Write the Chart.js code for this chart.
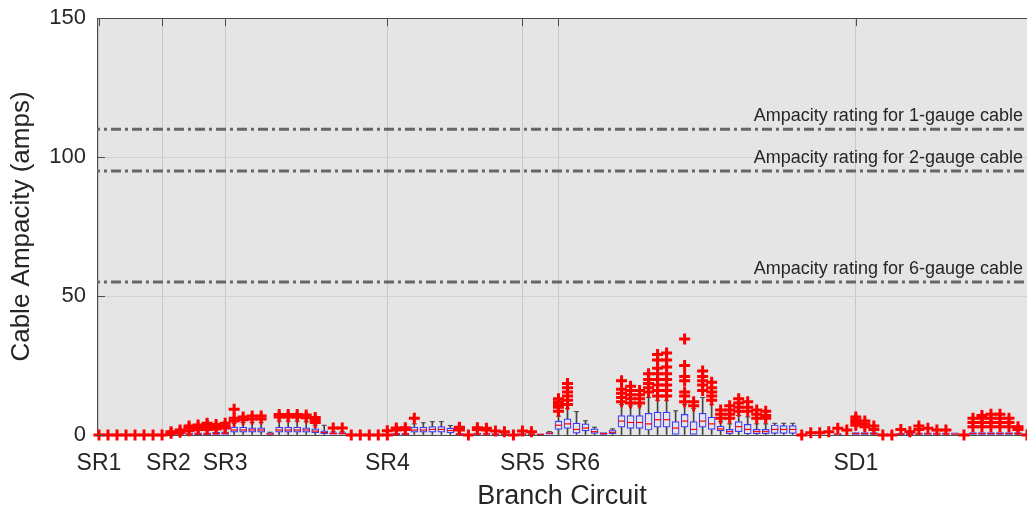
<!DOCTYPE html>
<html><head><meta charset="utf-8">
<script src="https://cdn.jsdelivr.net/npm/chart.js@4"></script>
<style>html,body{margin:0;padding:0;background:#fff;overflow:hidden;}</style>
</head><body>
<canvas id="c" width="1027" height="514"></canvas>
<script>
// ---- data ----
const categories = Array.from({length: 104}, (_, i) => i); // branch circuit index
const tickPos = [0, 7, 14, 32, 47, 51, 84];
const tickLabels = ['SR1', '  SR2', 'SR3', 'SR4', 'SR5', '      SR6', 'SD1'];
const yTicks = [0, 50, 100, 150];

const q1 = [null,null,null,null,null,null,null,null,
  0,0,0,0.1,0.1,0.2,0.2,1,1,1,1,0.2,1,1,1,1,0.8,0.5,0.3,0.3,
  null,null,null,null,null,0.1,0.1,1,1,1,1,0.8,0.1,null,0.2,0.2,0.1,0.1,null,0.1,0.1,0.1,0.3,
  2,2.4,0.7,1.5,0.6,0.2,0.5,2.8,2.4,2.4,1.8,2.8,2.8,0.2,2.8,0.2,2.8,2,1.5,0.4,1.2,0.4,0.4,0.4,0.6,0.6,0.6,
  null,null,null,null,0.1,null,0.2,0.2,0.2,null,null,0.1,0.1,0.2,0.2,0.2,0.2,0.2,null,0.2,0.2,0.2,0.2,0.2,0.2,null];
const med = [null,null,null,null,null,null,null,null,
  0.2,0.3,0.3,0.4,0.4,0.5,0.6,1.8,1.8,1.8,1.8,0.4,1.8,1.8,1.8,1.8,1.4,0.9,0.5,0.5,
  null,null,null,null,null,0.3,0.3,1.8,1.8,2,2,1.6,0.3,null,0.4,0.4,0.3,0.3,null,0.3,0.3,0.2,0.6,
  3.5,4,2,2.5,1.2,0.5,1,5,4.5,4.5,4,5.5,5.5,2.5,5,2,5,4,2.2,1.2,3,2,1.2,1.2,2,2,2,
  null,null,null,null,0.3,null,0.5,0.5,0.5,null,null,0.3,0.3,0.4,0.4,0.4,0.4,0.4,null,0.5,0.5,0.5,0.5,0.5,0.5,null];
const q3 = [null,null,null,null,null,null,null,null,
  0.5,0.6,0.6,0.8,0.8,1,1.1,2.8,2.8,2.6,2.6,0.8,2.8,2.8,2.8,2.6,2.2,1.5,0.9,0.9,
  null,null,null,null,null,0.6,0.6,2.8,2.8,3,3,2.5,0.6,null,0.7,0.7,0.5,0.5,null,0.5,0.5,0.4,1,
  5,5.8,4.3,4,2.2,0.9,1.8,7,7,7,7.8,8.2,8.2,4.8,7.4,4.8,7.8,6.4,3.2,2,4.8,3.8,2,2,3.6,3.4,3.4,
  null,null,null,null,0.5,null,0.9,0.9,0.9,null,null,0.6,0.6,0.8,0.8,0.8,0.8,0.8,null,0.9,0.9,0.9,0.9,0.9,0.9,null];
const whiskerHi = [null,null,null,null,null,null,null,null,
  0.5,0.6,0.6,0.8,0.8,1,1.1,4.2,4.5,4.5,4.5,1,5,5,5,4.8,3.5,3.5,1.2,1.2,
  null,null,null,null,null,0.6,0.6,4,4.4,4.8,4.8,3.4,0.6,null,0.7,0.7,0.5,0.5,null,0.5,0.5,0.4,1.2,
  6.8,9.6,8.4,5.1,2.8,0.9,2.2,11,10.5,10.5,13.5,12.5,12.5,8.7,11,9.6,13.5,11,4.8,4,7,6.5,4,4,4.2,4.2,4.2,
  null,null,null,null,0.5,null,0.9,0.9,0.9,null,null,0.6,0.6,0.8,0.8,0.8,0.8,0.8,null,0.9,0.9,0.9,0.9,0.9,0.9,null];
const outliers = [
  [0],[0],[0],[0],[0],[0],[0],[0],
  [0.6,1.2],[1,1.8],[1.5,2.5,3.2],[2,2.8,3.6],[2,2.8,3.6,4.2],[2.2,3,3.8],[2.5,3.2,4.2],
  [5,6,9.3],[5.5,6.5],[5.8,6.8],[5.8,6.8],[],[6.5,7.4],[6.5,7.4],[6.5,7.4],[6.2,7.2],[4.5,5.5,6.3],[],[2.5],[2.5],
  [0],[0],[0],[0],[0,1.5],[1.8,2.5],[2,2.6],[6],[],[],[],[],[1.8,2.4,2.8],[0],[2,2.6],[1.8,2.4],[1.4],[1.2],[0],[1.4],[1.2],[],[],
  [8.5,10,11,12,13],[11,12.5,14,15.5,17,18.5],[],[],[],[],[],
  [12,13.5,15,16.5,19.5],[11.5,13,14.5,16,17.5],[11.5,13,14.5,16],[15.5,17,18.5,20,22],
  [14,16,18,20,22,24,27,29],[14,16,18,20,22,24.5,27,29.5],[],[12,14,15.5,19.5,21,25,34.5],[10.5,12],
  [16,18,19.5,21,23],[12.5,14,15.5,17,19],[6,7.5,9],[6,7.5,9,10.5],[8.5,10,11.5,13],[8.5,10,12],[6,7.5,9],[6,7,8.5],
  [],[],[],
  [0],[0.8],[0.8],[1.2],[2.4],[1.8],[3.5,4.5,5.5,6.5],[3,4,5],[2,3.2],[0],[0],[2],[1.2],[2,3.2],[2.4],[1.8],[1.8],[],
  [0],[3,4.5,6],[3,4.5,6,7],[3,4.5,6,7.5],[3,4.5,6,7.5],[3,4.5,6],[2,3],[0]];
const ratingValues = [110, 95, 55];
const ratingLabels = ['Ampacity rating for 1-gauge cable', 'Ampacity rating for 2-gauge cable', 'Ampacity rating for 6-gauge cable'];

// ---- derived datasets ----
const FONT = 'Arial, "Liberation Sans", Helvetica, sans-serif';
const hasBox = i => q1[i] !== null;
const boxData = categories.filter(hasBox).map(i => ({x: i, y: [q1[i], q3[i]]}));
const upperWhisker = categories.filter(i => hasBox(i) && whiskerHi[i] > q3[i]).map(i => ({x: i, y: [q3[i], whiskerHi[i]]}));
const lowerWhisker = categories.filter(i => hasBox(i) && q1[i] > 0.3).map(i => ({x: i, y: [0, q1[i]]}));
const capData = upperWhisker.map(d => ({x: d.x, y: d.y[1]}));
const medData = categories.filter(i => med[i] !== null).map(i => ({x: i, y: med[i]}));
const outData = categories.flatMap(i => outliers[i].map(v => ({x: i, y: v})));

const ratingSets = ratingValues.map(v => ({
  type: 'line', data: [{x: -1, y: v}, {x: 110, y: v}], borderColor: '#666666', borderWidth: 3,
  borderDash: [10, 4, 3, 4], pointRadius: 0, order: 6
}));

const decor = {
  id: 'decor',
  beforeDraw(chart) {
    const {ctx, chartArea: a} = chart;
    ctx.save();
    ctx.fillStyle = '#e5e5e5';
    ctx.fillRect(a.left, a.top, a.right - a.left, a.bottom - a.top);
    ctx.restore();
  },
  afterDraw(chart) {
    const {ctx, chartArea: a, scales: {x, y}} = chart;
    ctx.save();
    ctx.strokeStyle = '#4d4d4d';
    ctx.lineWidth = 1;
    ctx.beginPath();
    ctx.moveTo(a.left, a.top + 0.5); ctx.lineTo(a.right, a.top + 0.5);
    y.ticks.forEach(t => { const py = Math.round(y.getPixelForValue(t.value)) + 0.5; ctx.moveTo(a.left, py); ctx.lineTo(a.left + 8, py); });
    x.ticks.forEach(t => { const px = Math.round(x.getPixelForValue(t.value)) + 0.5; ctx.moveTo(px, a.top); ctx.lineTo(px, a.top + 8); });
    ctx.stroke();
    ctx.fillStyle = '#262626';
    ctx.font = '18px ' + FONT;
    ctx.textAlign = 'right';
    ctx.textBaseline = 'alphabetic';
    ratingValues.forEach((v, i) => ctx.fillText(ratingLabels[i], a.right - 4, y.getPixelForValue(v) - 8));
    ctx.restore();
  }
};

new Chart(document.getElementById('c'), {
  type: 'bar',
  data: {
    datasets: [
      ...ratingSets,
      {type: 'bar', data: lowerWhisker, backgroundColor: '#444444', barThickness: 1, grouped: false, order: 5},
      {type: 'bar', data: upperWhisker, backgroundColor: '#444444', barThickness: 1, grouped: false, order: 5},
      {type: 'scatter', data: capData, pointStyle: 'line', radius: 2.5, borderColor: '#444444', borderWidth: 1, order: 4},
      {type: 'bar', data: boxData, backgroundColor: 'rgba(229,229,229,1)', borderColor: '#3a3aff', borderWidth: 1.2,
        borderSkipped: false, barThickness: 7, grouped: false, order: 3},
      {type: 'scatter', data: medData, pointStyle: 'line', radius: 3.5, borderColor: '#ff0000', borderWidth: 1.2, order: 2},
      {type: 'scatter', data: outData, pointStyle: 'cross', radius: 5.5, borderColor: '#ff0000', borderWidth: 3, clip: false, order: 1}
    ]
  },
  options: {
    responsive: false,
    animation: false,
    events: [],
    layout: {autoPadding: false, padding: {top: 18, right: 0, left: 0, bottom: 0}},
    plugins: {legend: {display: false}, tooltip: {enabled: false}},
    scales: {
      x: {
        type: 'linear', min: -0.22, max: 103, offset: false,
        afterBuildTicks: s => { s.ticks = tickPos.map(v => ({value: v})); },
        afterFit: s => { s.height = 79; s.paddingLeft = 0; s.paddingRight = 0; },
        ticks: {
          autoSkip: false, maxRotation: 0, padding: 15, color: '#262626', font: {size: 23, family: FONT},
          callback: v => { const k = tickPos.indexOf(v); return k < 0 ? '' : tickLabels[k]; }
        },
        grid: {color: '#c8c8c8', drawTicks: false, lineWidth: 1, offset: false},
        border: {display: true, color: '#4d4d4d', width: 1},
        title: {display: true, text: 'Branch Circuit', color: '#262626', font: {size: 27, family: FONT}, padding: {top: 0, bottom: 1}}
      },
      y: {
        min: 0, max: 150,
        afterBuildTicks: s => { s.ticks = yTicks.map(v => ({value: v})); },
        afterFit: s => { s.width = 97; s.paddingTop = 0; s.paddingBottom = 0; },
        ticks: {padding: 11, color: '#262626', font: {size: 22, family: FONT}},
        grid: {color: '#d2d2d2', drawTicks: false, lineWidth: 1},
        border: {display: true, color: '#4d4d4d', width: 1},
        title: {display: true, text: 'Cable Ampacity (amps)', color: '#262626', font: {size: 26, family: FONT}, padding: {top: 6, bottom: 0}}
      }
    }
  },
  plugins: [decor]
});
</script>
</body></html>
